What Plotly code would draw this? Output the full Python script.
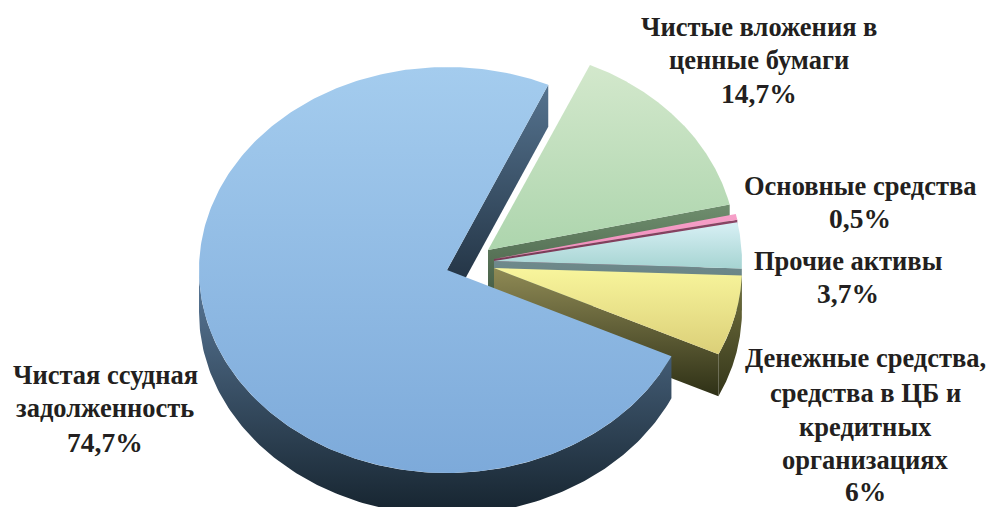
import numpy as np
import plotly.graph_objects as go

# ---- data (clockwise from the first slice) ----
categories = ["Чистые вложения в ценные бумаги", "Основные средства", "Прочие активы",
              "Денежные средства, средства в ЦБ и кредитных организациях",
              "Чистая ссудная задолженность"]
values = [14.7, 0.5, 3.7, 6.4, 74.7]  # the cash slice is drawn a little wider than its rounded "6%"
value_labels = ["14,7%", "0,5%", "3,7%", "6%", "74,7%"]
name_lines = [["Чистые вложения в", "ценные бумаги"], ["Основные средства"], ["Прочие активы"],
              ["Денежные средства,", "средства в ЦБ и", "кредитных", "организациях"],
              ["Чистая ссудная", "задолженность"]]

# ---- pie layout ----
W, H = 989, 507
RX, RY, DEPTH = 248, 203, 42
START = 24.1
centers = [(488, 250), (494, 259), (494, 261), (494, 268), (447, 270)]
top_cols = [("#D3E8CC", "#ADD5AD"), ("#F6A0C8", "#F08CBC"), ("#D8F0F5", "#A6D4D2"),
            ("#F8F59C", "#DBCF78"), ("#A4CCEE", "#7DAADA")]
edge_cols = [("#6F8E6E", "#475F47"), ("#8A4565", "#6A3048"), ("#6F8A8C", "#5F7A7A"),
             ("#8F8A55", "#2E3016"), ("#55738F", "#1C2B3A")]
arc_cols = [("#6F8E6E", "#475F47"), ("#8A4565", "#6A3048"), ("#6F8A8C", "#5F7A7A"),
            ("#75733F", "#33351A"), ("#5B7A9A", "#16242F")]
label_pos = [(759, [27, 60], 93), (860, [186], 218), (848, [261], 293),
             (865, [358, 393, 427, 460], 491), (105, [375, 408], 442)]

fig = go.Figure()


def pt(c, th):
    t = np.radians(th)
    return c[0] + RX * np.sin(t), c[1] - RY * np.cos(t)


def add_poly(xs, ys, cols):
    # the y axis runs downwards, so the gradient stops are given bottom colour first
    fig.add_trace(go.Scatter(
        x=list(xs) + [xs[0]], y=list(ys) + [ys[0]], mode="lines", fill="toself",
        line=dict(width=0), hoverinfo="skip", showlegend=False,
        fillgradient=dict(type="vertical", colorscale=[[0, cols[1]], [1, cols[0]]])))


total = sum(values)
a0 = START
for i, v in enumerate(values):
    a1 = a0 + 360 * v / total
    c = centers[i]
    # wall under the clockwise edge (right-side slices) or the closing edge (big slice)
    if a1 < 180 or a1 - a0 > 180:
        ex, ey = pt(c, a1)
        add_poly([c[0], ex, ex, c[0]], [c[1], ey, ey + DEPTH, c[1] + DEPTH], edge_cols[i])
    # outer wall: only the part of the arc facing the viewer
    lo, hi = max(a0, 90), min(a1, 270)
    if hi > lo:
        th = np.linspace(lo, hi, 160)
        ax, ay = pt(c, th)
        add_poly(np.r_[ax, ax[::-1]], np.r_[ay, ay[::-1] + DEPTH], arc_cols[i])
    # top face
    th = np.linspace(a0, a1, 320)
    ax, ay = pt(c, th)
    add_poly(np.r_[c[0], ax], np.r_[c[1], ay], top_cols[i])
    a0 = a1

annotations = []
FONT = "Liberation Serif"
for i in range(len(values)):
    cx, ys, yv = label_pos[i]
    for line, y in zip(name_lines[i], ys):
        annotations.append(dict(x=cx, y=y, text=f"<b>{line}</b>", showarrow=False,
                                xanchor="center", yanchor="middle",
                                font=dict(family=FONT, size=26.5, color="#231f20")))
    annotations.append(dict(x=cx, y=yv, text=f"<b>{value_labels[i]}</b>", showarrow=False,
                            xanchor="center", yanchor="middle",
                            font=dict(family=FONT, size=27.5, color="#231f20")))

fig.update_layout(
    width=W, height=H, margin=dict(l=0, r=0, t=0, b=0),
    paper_bgcolor="white", plot_bgcolor="white", showlegend=False,
    xaxis=dict(range=[0, W], visible=False, fixedrange=True),
    yaxis=dict(range=[H, 0], visible=False, fixedrange=True),
    annotations=annotations)

fig.write_html("out.html", post_script="document.body.style.margin='0';",
               config={"displayModeBar": False})
